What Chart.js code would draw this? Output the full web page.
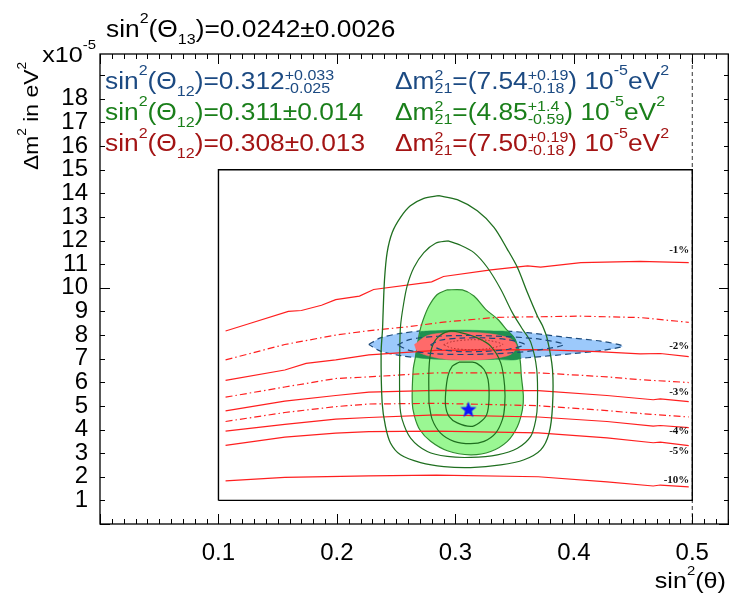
<!DOCTYPE html>
<html>
<head>
<meta charset="utf-8">
<script src="https://cdn.jsdelivr.net/npm/chart.js@4.4.1/dist/chart.umd.min.js"></script>
<style>
  html, body { margin: 0; padding: 0; background: #fff; }
</style>
</head>
<body>
<canvas id="osc" width="729" height="595"></canvas>
<script>
const FONT = '"Liberation Sans", Arial, sans-serif';
const TEXT_SX = 1.145; // the labels in the original are set in a wide face

// axis ticks
const xTickValues = [0.1, 0.2, 0.3, 0.4, 0.5];
const yTickValues = [1, 2, 3, 4, 5, 6, 7, 8, 9, 10, 11, 12, 13, 14, 15, 16, 17, 18];

// iso-percentage lines (red), solid ones carry the labels
const iso1 = [[0.106,8.17],[0.127,8.5],[0.159,9.0],[0.17,9.04],[0.187,9.26],[0.199,9.5],[0.219,9.65],[0.231,9.93],[0.28,10.25],[0.29,10.48],[0.33,10.76],[0.361,10.93],[0.372,10.88],[0.406,11.07],[0.456,11.12],[0.497,11.07]];
const iso15 = [[0.106,6.95],[0.156,7.6],[0.199,8.0],[0.226,8.18],[0.26,8.35],[0.29,8.55],[0.335,8.75],[0.406,8.8],[0.456,8.74],[0.497,8.54]];
const iso2 = [[0.106,6.08],[0.156,6.52],[0.174,6.8],[0.199,6.95],[0.227,7.16],[0.284,7.35],[0.37,7.38],[0.42,7.3],[0.456,7.2],[0.473,7.22],[0.497,7.09]];
const iso25 = [[0.106,5.37],[0.156,5.8],[0.199,6.16],[0.227,6.23],[0.284,6.4],[0.37,6.4],[0.428,6.23],[0.456,6.11],[0.497,5.99]];
const iso3 = [[0.106,4.79],[0.156,5.2],[0.199,5.44],[0.227,5.58],[0.284,5.66],[0.37,5.65],[0.428,5.44],[0.467,5.26],[0.473,5.3],[0.497,5.18]];
const iso35 = [[0.106,4.34],[0.156,4.72],[0.199,4.97],[0.227,5.08],[0.284,5.11],[0.37,5.01],[0.428,4.8],[0.456,4.68],[0.497,4.53]];
const iso4 = [[0.106,3.93],[0.156,4.22],[0.199,4.44],[0.227,4.51],[0.284,4.62],[0.37,4.53],[0.428,4.34],[0.467,4.14],[0.473,4.17],[0.497,4.08]];
const iso5 = [[0.106,3.33],[0.156,3.68],[0.199,3.85],[0.227,3.91],[0.284,3.93],[0.37,3.86],[0.428,3.65],[0.467,3.44],[0.473,3.47],[0.497,3.32]];
const iso10 = [[0.106,1.83],[0.156,1.97],[0.227,2.04],[0.284,2.07],[0.37,2.0],[0.428,1.78],[0.467,1.61],[0.473,1.65],[0.497,1.57]];
const isoLabels = ['-1%', '-2%', '-3%', '-4%', '-5%', '-10%'];
const isoLabelY = [11.6, 7.52, 5.6, 3.95, 3.1, 1.87];

// green contours (solar + KamLAND free)
const green1 = [[0.286,13.9],[0.3016,13.73],[0.3185,13.26],[0.3326,12.56],[0.3439,11.63],[0.3524,10.86],[0.3608,9.8],[0.3693,8.8],[0.3735,8.4],[0.3777,7.81],[0.382,6.54],[0.382,4.98],[0.3791,3.85],[0.3721,3.14],[0.358,2.72],[0.3383,2.5],[0.3129,2.39],[0.2903,2.43],[0.2706,2.6],[0.2537,2.93],[0.2452,3.43],[0.241,4.13],[0.2382,5.12],[0.2373,7.25],[0.2385,8.24],[0.239,8.95],[0.2402,10.36],[0.2424,11.49],[0.2467,12.34],[0.2537,12.98],[0.262,13.47],[0.2734,13.79],[0.286,13.9]];
const green2 = [[0.2937,11.99],[0.3044,11.8],[0.3157,11.49],[0.327,10.86],[0.3383,9.94],[0.3481,8.95],[0.356,8.3],[0.3636,7.7],[0.3687,6.54],[0.3693,5.12],[0.3679,4.42],[0.3636,3.71],[0.3524,3.21],[0.3355,2.93],[0.3129,2.82],[0.2932,2.86],[0.2763,3.07],[0.2622,3.64],[0.2551,4.42],[0.2531,5.12],[0.2531,7.5],[0.2537,8.38],[0.256,9.23],[0.2593,10.08],[0.265,10.86],[0.2734,11.49],[0.2833,11.89],[0.2937,11.99]];
const greenFill = [[0.2926,9.91],[0.3059,9.91],[0.3157,9.65],[0.3256,9.09],[0.336,8.66],[0.343,8.24],[0.3505,7.81],[0.3546,6.96],[0.3557,6.26],[0.3574,5.41],[0.3566,4.84],[0.3524,4.13],[0.3439,3.5],[0.3298,3.07],[0.3129,2.93],[0.2932,3.1],[0.2791,3.5],[0.27,3.99],[0.2655,4.56],[0.2636,5.12],[0.2644,6.54],[0.2664,7.1],[0.27,8.17],[0.2729,8.66],[0.2777,9.23],[0.2847,9.72],[0.2926,9.91]];
const green4 = [[0.2777,5.12],[0.2777,6.54],[0.2797,7.39],[0.2847,7.88],[0.2946,8.17],[0.3044,8.1],[0.3185,7.88],[0.3298,7.53],[0.3383,6.82],[0.3416,5.83],[0.3416,4.98],[0.3397,4.42],[0.334,3.85],[0.3242,3.5],[0.3129,3.4],[0.2988,3.5],[0.2875,3.85],[0.2805,4.42],[0.2777,5.12]];
const green5 = [[0.303,6.85],[0.3143,6.85],[0.3185,6.79],[0.3242,6.54],[0.3276,6.11],[0.3284,5.27],[0.3264,4.63],[0.32,4.28],[0.3129,4.13],[0.3016,4.28],[0.2946,4.56],[0.2918,4.98],[0.2918,5.55],[0.2937,6.26],[0.2974,6.68],[0.303,6.85]];
const greenBlueOverlap = [[0.2705,8.15],[0.2763,8.17],[0.3044,8.21],[0.3326,8.17],[0.345,8.13],[0.3505,7.81],[0.3546,7.02],[0.3326,6.97],[0.3044,6.95],[0.2763,7.0],[0.2664,7.06],[0.2664,7.1],[0.2689,7.8],[0.2705,8.15]];

// blue (global solar + KamLAND) and red (with theta13) regions
const blueFill = [[0.2269,7.6],[0.2368,7.88],[0.2537,8.07],[0.2763,8.2],[0.3044,8.24],[0.3326,8.2],[0.3608,8.1],[0.389,7.93],[0.4228,7.74],[0.4412,7.53],[0.4228,7.34],[0.4003,7.22],[0.3608,7.04],[0.3326,6.96],[0.3044,6.94],[0.2763,6.99],[0.2537,7.13],[0.2368,7.32],[0.2269,7.6]];
const blueIn1 = [[0.251,7.58],[0.262,7.82],[0.285,7.95],[0.315,7.98],[0.345,7.93],[0.372,7.82],[0.3915,7.6],[0.372,7.38],[0.345,7.24],[0.315,7.18],[0.285,7.2],[0.262,7.34],[0.251,7.58]];
const blueIn2 = [[0.279,7.59],[0.287,7.78],[0.305,7.87],[0.325,7.88],[0.345,7.8],[0.3585,7.6],[0.345,7.4],[0.325,7.31],[0.305,7.3],[0.287,7.4],[0.279,7.59]];
const redFill = [[0.2655,7.6],[0.2763,7.98],[0.2932,8.1],[0.3129,8.12],[0.3326,8.03],[0.3467,7.84],[0.3518,7.53],[0.3467,7.18],[0.3326,7.01],[0.3129,6.94],[0.2932,6.96],[0.2763,7.13],[0.2678,7.32],[0.2655,7.6]];
const redDot = [[0.29,7.59],[0.297,7.72],[0.312,7.8],[0.328,7.77],[0.34,7.6],[0.328,7.43],[0.312,7.38],[0.297,7.45],[0.29,7.59]];

const bestFit = [0.311, 4.85];
const innerBox = [[0.1,1],[0.5,1],[0.5,15],[0.1,15],[0.1,1]];
const halfLine = [[0.5,0],[0.5,19.9]];

function pts(a) { return a.map(p => ({ x: p[0], y: p[1] })); }

function line(a, color, width, dash, order, tension) {
  return { data: pts(a), showLine: true, pointRadius: 0, borderColor: color, borderWidth: width,
    borderDash: dash || [], fill: false, order: order, tension: tension || 0 };
}
function area(a, bg, border, width, dash, order) {
  return { data: pts(a), showLine: true, pointRadius: 0, backgroundColor: bg, borderColor: border,
    borderWidth: width, borderDash: dash || [], fill: 'shape', order: order, tension: 0.3 };
}

// five pointed star for the best fit
const starImg = document.createElement('canvas');
starImg.width = 18; starImg.height = 18;
(function () {
  const c = starImg.getContext('2d');
  c.fillStyle = '#0a14ff';
  c.beginPath();
  for (let i = 0; i < 10; i++) {
    const r = i % 2 ? 3.6 : 8.5;
    const a = -Math.PI / 2 + i * Math.PI / 5;
    c.lineTo(9 + r * Math.cos(a), 9.5 + r * Math.sin(a));
  }
  c.closePath();
  c.fill();
})();

const RED = '#ff1f1f', DASHDOT = [7, 3, 1.5, 3];
const GLINE = '#1f6f1f', BLUE_D = '#1d4a7a';

const datasets = [
  { data: [{ x: bestFit[0], y: bestFit[1] }], pointStyle: starImg, pointRadius: 9, order: 0 },
  line(innerBox, '#000', 1.4, null, 2),
  line(halfLine, '#333', 1, [4, 3], 2),
  line(redDot, '#b03030', 1, [1.5, 2], 3, 0.3),
  line(blueIn2, BLUE_D, 1.2, [6, 4], 3, 0.3),
  line(blueIn1, BLUE_D, 1.2, [6, 4], 3, 0.3),
  line(green5, GLINE, 1.2, null, 4, 0.3),
  line(green4, GLINE, 1.2, null, 4, 0.3),
  line(green2, GLINE, 1.2, null, 4, 0.3),
  line(green1, GLINE, 1.3, null, 4, 0.3),
  line(iso1, RED, 1.2, null, 5),
  line(iso15, RED, 1.2, DASHDOT, 5),
  line(iso2, RED, 1.2, null, 5),
  line(iso25, RED, 1.2, DASHDOT, 5),
  line(iso3, RED, 1.2, null, 5),
  line(iso35, RED, 1.2, DASHDOT, 5),
  line(iso4, RED, 1.2, null, 5),
  line(iso5, RED, 1.2, null, 5),
  line(iso10, RED, 1.2, null, 5),
  area(redFill, '#ff6a6a', '#ff6a6a', 0.5, null, 6),
  area(greenBlueOverlap, '#1f9050', '#1f9050', 0.5, null, 7),
  area(greenFill, '#9af793', '#2f8a2f', 1.2, null, 8),
  area(blueFill, '#9cc9fb', BLUE_D, 1.2, [6, 4], 9)
];

// text with ^sup, _sub and ^sup|sub pieces, drawn horizontally stretched
function rich(ctx, x, y, parts, size, color, align) {
  const big = size + 'px ' + FONT, little = Math.round(size * 0.6) + 'px ' + FONT;
  const items = parts.map(p => {
    let kind = 'n', t = p, t2 = '';
    if (p[0] === '^' || p[0] === '_') { kind = p[0]; t = p.slice(1); }
    if (kind === '^' && t.includes('|')) { kind = 's'; [t, t2] = t.split('|'); }
    ctx.font = kind === 'n' ? big : little;
    const w = Math.max(ctx.measureText(t).width, t2 ? ctx.measureText(t2).width : 0);
    return { kind, t, t2, w };
  });
  const total = items.reduce((s, it) => s + it.w, 0) * TEXT_SX;
  const x0 = align === 'right' ? x - total : align === 'center' ? x - total / 2 : x;
  ctx.save();
  ctx.translate(x0, y);
  ctx.scale(TEXT_SX, 1);
  ctx.fillStyle = color;
  ctx.textAlign = 'left';
  ctx.textBaseline = 'alphabetic';
  let cx = 0;
  items.forEach(it => {
    if (it.kind === 'n') { ctx.font = big; ctx.fillText(it.t, cx, 0); }
    else {
      ctx.font = little;
      if (it.kind === '^') ctx.fillText(it.t, cx, -size * 0.6);
      else if (it.kind === '_') ctx.fillText(it.t, cx, size * 0.3);
      else { ctx.fillText(it.t, cx, -size * 0.4); ctx.fillText(it.t2, cx, size * 0.17); }
    }
    cx += it.w;
  });
  ctx.restore();
  return total;
}

const decorations = {
  id: 'decorations',
  afterDatasetsDraw(chart) {
    const ctx = chart.ctx, a = chart.chartArea;
    const xs = chart.scales.x, ys = chart.scales.y;
    ctx.save();
    // frame
    ctx.strokeStyle = '#000';
    ctx.lineWidth = 1.3;
    ctx.strokeRect(a.left, a.top, a.right - a.left - 0.7, a.bottom - a.top);
    // inward ticks
    ctx.lineWidth = 1;
    for (let i = 0; i <= 53; i++) {
      const px = Math.round(xs.getPixelForValue(i / 100)) + 0.5;
      const len = i % 10 === 0 ? 10 : 5;
      ctx.beginPath();
      ctx.moveTo(px, a.bottom); ctx.lineTo(px, a.bottom - len);
      ctx.moveTo(px, a.top); ctx.lineTo(px, a.top + len);
      ctx.stroke();
    }
    for (let i = 0; i <= 19; i++) {
      const py = Math.round(ys.getPixelForValue(i)) + 0.5;
      const len = i % 10 === 0 ? 10 : 5;
      ctx.beginPath();
      ctx.moveTo(a.left, py); ctx.lineTo(a.left + len, py);
      ctx.moveTo(a.right, py); ctx.lineTo(a.right - len, py);
      ctx.stroke();
    }
    // percent labels
    ctx.font = 'bold 11px "Liberation Serif", serif';
    ctx.fillStyle = '#111';
    ctx.textAlign = 'right';
    ctx.textBaseline = 'middle';
    isoLabels.forEach((t, i) => ctx.fillText(t, xs.getPixelForValue(0.4975), ys.getPixelForValue(isoLabelY[i])));

    // fit results
    const rows = [
      { c: '#1c4a82', l: ['sin', '^2', '(Θ', '_12', ')=0.312', '^+0.033|-0.025'],
        r: ['Δm', '^2|21', '=(7.54', '^+0.19|-0.18', ') 10', '^-5', 'eV', '^2'] },
      { c: '#1a7f1a', l: ['sin', '^2', '(Θ', '_12', ')=0.311±0.014'],
        r: ['Δm', '^2|21', '=(4.85', '^+1.4|-0.59', ') 10', '^-5', 'eV', '^2'] },
      { c: '#a31414', l: ['sin', '^2', '(Θ', '_12', ')=0.308±0.013'],
        r: ['Δm', '^2|21', '=(7.50', '^+0.19|-0.18', ') 10', '^-5', 'eV', '^2'] }
    ];
    rows.forEach((row, i) => {
      const by = 89 + i * 31.2;
      rich(ctx, 105, by, row.l, 23, row.c, 'left');
      rich(ctx, 395, by, row.r, 23, row.c, 'left');
    });

    // titles
    rich(ctx, 106, 37, ['sin', '^2', '(Θ', '_13', ')=0.0242±0.0026'], 23, '#000', 'left');
    rich(ctx, 96, 62, ['x10', '^-5'], 22, '#000', 'right');
    rich(ctx, 726, 588, ['sin', '^2', '(θ)'], 22, '#000', 'right');
    ctx.translate(38, 116);
    ctx.rotate(-Math.PI / 2);
    rich(ctx, 0, 0, ['Δm', '^2', ' in eV', '^2'], 20, '#000', 'center');
    ctx.restore();
  }
};

new Chart(document.getElementById('osc'), {
  type: 'scatter',
  data: { datasets },
  options: {
    responsive: false,
    animation: false,
    events: [],
    layout: { autoPadding: false, padding: { top: 54, left: 0, right: 0, bottom: 0 } },
    plugins: { legend: { display: false }, tooltip: { enabled: false } },
    scales: {
      x: {
        type: 'linear', min: 0, max: 0.531,
        afterBuildTicks: s => { s.ticks = xTickValues.map(v => ({ value: v })); },
        afterFit: s => { s.height = 71; s.paddingLeft = 0; s.paddingRight = 0; },
        grid: { display: false },
        border: { display: false },
        ticks: { color: '#000', padding: 7, autoSkip: false, maxRotation: 0,
          font: { family: FONT, size: 24 }, callback: v => v.toFixed(1) }
      },
      y: {
        type: 'linear', min: 0, max: 19.9,
        afterBuildTicks: s => { s.ticks = yTickValues.map(v => ({ value: v })); },
        afterFit: s => { s.width = 100; s.paddingTop = 0; s.paddingBottom = 0; },
        grid: { display: false },
        border: { display: false },
        ticks: { color: '#000', padding: 4, autoSkip: false, font: { family: FONT, size: 24 } }
      }
    }
  },
  plugins: [decorations]
});
</script>
</body>
</html>
